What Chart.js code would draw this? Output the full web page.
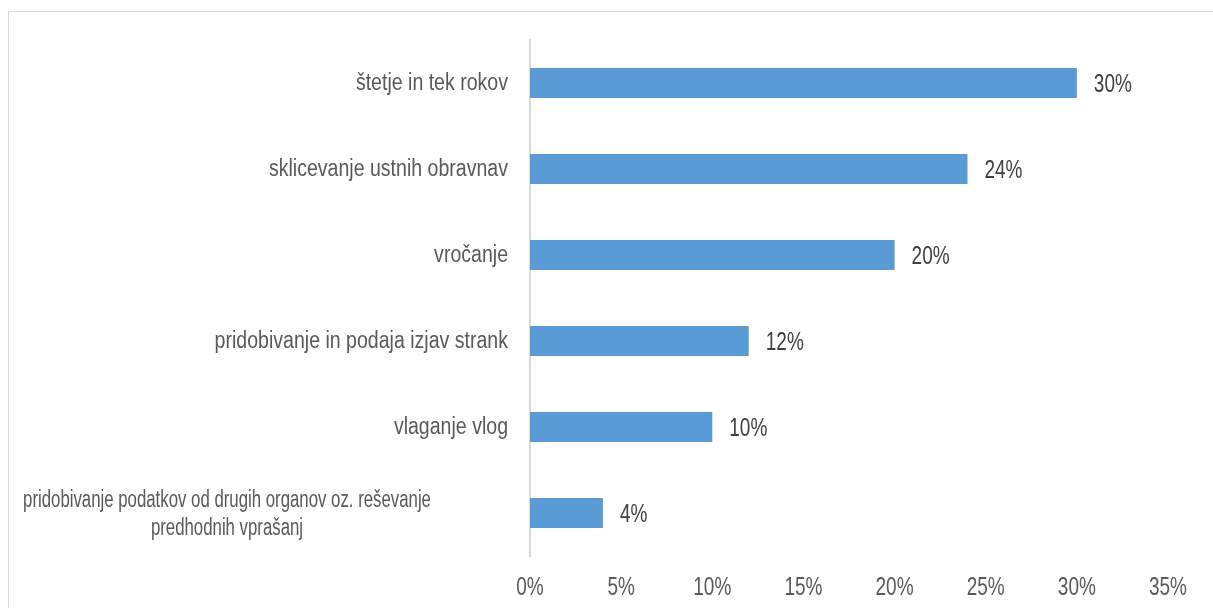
<!DOCTYPE html>
<html>
<head>
<meta charset="utf-8">
<style>
  html, body { margin: 0; padding: 0; background: #fff; }
  #wrap { position: relative; width: 1213px; height: 608px; overflow: hidden; }
  #frame { position: absolute; left: 8px; top: 11px; width: 1300px; height: 700px; border: 1px solid #d9d9d9; }
  canvas { position: absolute; left: 0; top: 0; }
</style>
</head>
<body>
<div id="wrap">
  <div id="frame"></div>
  <canvas id="myChart" width="1213" height="608"></canvas>
</div>
<script src="https://cdn.jsdelivr.net/npm/chart.js"></script>
<script>
  // kategorije in deleži
  const categories = [
    ['štetje in tek rokov'],
    ['sklicevanje ustnih obravnav'],
    ['vročanje'],
    ['pridobivanje in podaja izjav strank'],
    ['vlaganje vlog'],
    ['pridobivanje podatkov od drugih organov oz. reševanje', 'predhodnih vprašanj']
  ];
  const values = [30, 24, 20, 12, 10, 4];
  const xTicks = [0, 5, 10, 15, 20, 25, 30, 35];

  const fontFamily = '"Liberation Sans", Arial, sans-serif';

  // ozka pisava (Arial Narrow) -> vodoravno stisnjen Liberation Sans
  function narrowText(c, text, x, y, align, k) {
    const w = c.measureText(text).width * k;
    let x0 = x;
    if (align === 'right') x0 = x - w;
    else if (align === 'center') x0 = x - w / 2;
    c.save();
    c.translate(x0, y);
    c.scale(k, 1);
    c.textAlign = 'left';
    c.fillText(text, 0, 0);
    c.restore();
  }

  // izris oznak kategorij, osi x in vrednosti
  const labelPlugin = {
    id: 'labels',
    afterDraw(chart) {
      const c = chart.ctx;
      const y = chart.scales.y;
      const x = chart.scales.x;
      const meta = chart.getDatasetMeta(0);
      c.save();
      c.textBaseline = 'middle';
      c.fillStyle = '#595959';
      c.font = '23px ' + fontFamily;
      categories.forEach((lines, i) => {
        const py = y.getPixelForValue(i);
        if (lines.length === 1) {
          narrowText(c, lines[0], y.right - 22, py + 1, 'right', 0.85);
        } else {
          const lh = 28;
          lines.forEach((t, j) => {
            narrowText(c, t, 227, py + 2 + (j - (lines.length - 1) / 2) * lh, 'center', 0.73);
          });
        }
      });
      c.font = '25px ' + fontFamily;
      xTicks.forEach(v => {
        narrowText(c, v + '%', x.getPixelForValue(v), 588, 'center', 0.76);
      });
      c.fillStyle = '#404040';
      meta.data.forEach((bar, i) => {
        narrowText(c, values[i] + '%', bar.x + 17, bar.y + 2, 'left', 0.76);
      });
      c.restore();
    }
  };

  const ctx = document.getElementById('myChart').getContext('2d');
  const myChart = new Chart(ctx, {
    type: 'bar',
    data: {
      labels: categories,
      datasets: [{
        data: values,
        backgroundColor: '#5b9bd5',
        borderWidth: 0,
        categoryPercentage: 1,
        barPercentage: 0.35
      }]
    },
    options: {
      indexAxis: 'y',
      responsive: false,
      animation: false,
      layout: { padding: { top: 40, right: 45, left: 0, bottom: 0 } },
      plugins: { legend: { display: false }, tooltip: { enabled: false } },
      scales: {
        x: {
          min: 0,
          max: 35,
          afterBuildTicks(s) { s.ticks = xTicks.map(v => ({ value: v })); },
          afterFit(s) { s.height = 52; },
          grid: { display: false },
          border: { display: false },
          ticks: { color: 'rgba(0,0,0,0)', font: { size: 22 } }
        },
        y: {
          afterFit(s) { s.width = 530; },
          grid: { display: false },
          border: { display: true, color: '#d9d9d9', width: 2 },
          ticks: { display: false }
        }
      }
    },
    plugins: [labelPlugin]
  });
</script>
</body>
</html>
